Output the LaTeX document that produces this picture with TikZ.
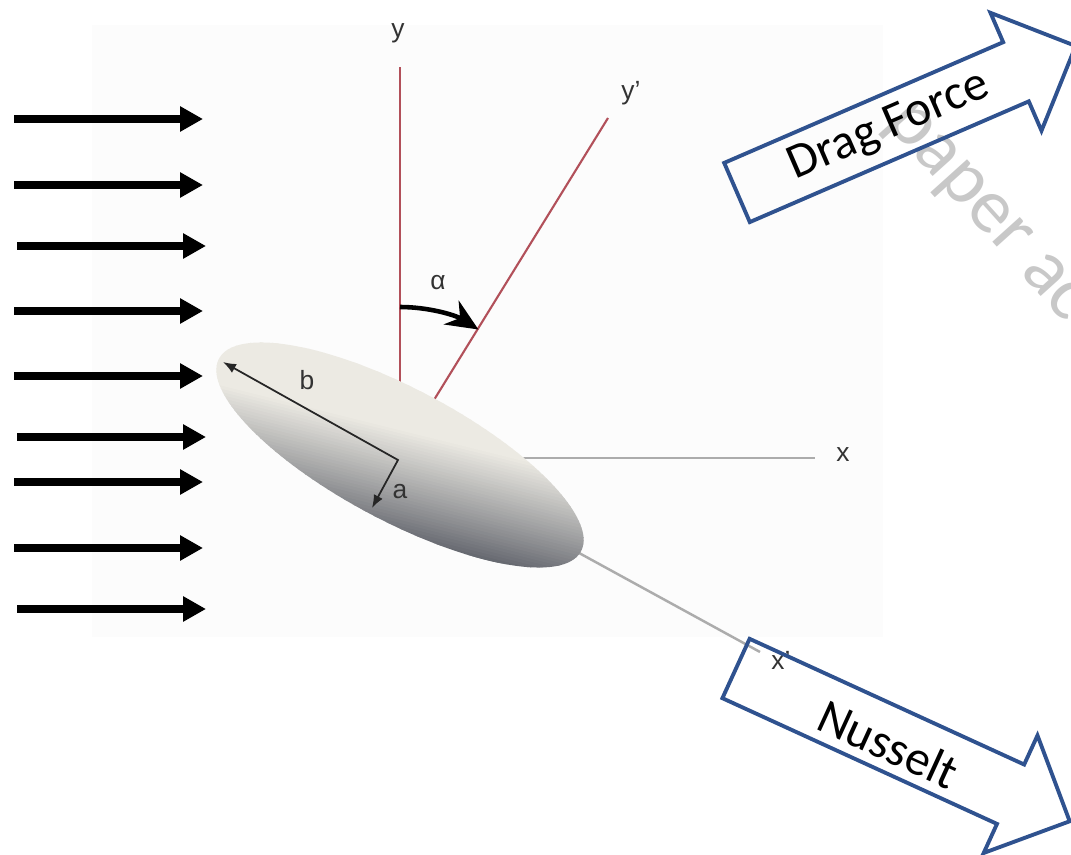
\documentclass[tikz,border=0pt]{standalone}
\usepackage{fontspec}
\setmainfont{Carlito}
\newfontfamily\axisfont{Liberation Sans}
\usetikzlibrary{arrows.meta,calc}
\tikzset{>=latex}
\definecolor{axisred}{RGB}{178,80,90}
\definecolor{axisgray}{RGB}{172,172,172}
\definecolor{boxblue}{RGB}{47,82,143}
\definecolor{markgray}{RGB}{200,200,200}
\definecolor{bodylight}{RGB}{236,234,227}
\definecolor{bodydark}{RGB}{88,91,100}
\tikzset{
  flow/.style={line width=2.1pt, -{Triangle[length=2.3mm,width=2.4mm]}},
  axislabel/.style={font=\axisfont\fontsize{7.5}{9}\selectfont, text=black!80},
  blockarrow/.style={draw=boxblue, line width=1.1pt, line join=miter},
  blocktext/.style={font=\fontsize{14}{16}\selectfont, transform shape}
}

\begin{document}
\begin{tikzpicture}
  \useasboundingbox (0,0) rectangle (10.71,-8.55);
  \clip (0,0) rectangle (10.71,-8.55);
  \fill [black!1] (0.92,-0.25) rectangle (8.83,-6.37);

  % incoming flow
  \foreach \yy/\xs in {1.19/0.14, 1.85/0.14, 2.46/0.17, 3.11/0.14, 3.76/0.14, 4.37/0.17, 4.82/0.14, 5.48/0.14, 6.09/0.17}
    \draw [flow] (\xs,-\yy) --++ (1.89,0);

  % axes
  \coordinate (O) at (4.00,-4.55);
  \coordinate (ytop) at (4.00,-0.67);
  \coordinate (yptop) at (6.08,-1.18);
  \coordinate (xend) at (8.15,-4.58);
  \coordinate (xpend) at (7.60,-6.52);
  \draw [axisgray, line width=0.7pt] (4.00,-4.58) -- (xend);
  \draw [axisgray, line width=0.7pt] (O) -- (xpend);
  \draw [axisred, line width=0.6pt] (O) -- (ytop);
  \draw [axisred, line width=0.6pt] (O) -- (yptop);
  \node [axislabel] (ylab) at (3.98,-0.33) {y};
  \node [axislabel] (yplab) at (6.31,-0.93) {y’};
  \node [axislabel] (xlab) at (8.43,-4.55) {x};
  \node [axislabel] (xplab) at (7.81,-6.60) {x’};

  % spheroid, shaded in bands (light from the upper left)
  \begin{scope}[shift={(O)}, rotate=-28]
    \clip (0,0) ellipse [x radius=2.05, y radius=0.66];
    \begin{scope}[rotate=14]
      \foreach \i in {0,...,59} {
        \pgfmathsetmacro\p{100*min(1,\i/38)^0.9}
        \pgfmathsetmacro\lo{-0.90+\i*0.03}
        \pgfmathsetmacro\hi{\lo+0.036}
        \fill [bodylight!\p!bodydark] (-2.3,\lo) -- (2.3,\lo) -- (2.3,\hi) -- (-2.3,\hi) -- cycle;
      }
    \end{scope}
  \end{scope}

  % angle of attack
  \draw [-{Stealth[length=3.2mm,width=2.8mm]}, line width=1.3pt] ($(O)+(90:1.48)$) arc [start angle=90, end angle=58, radius=1.48];
  \node [axislabel] (alab) at (4.38,-2.83) {α};

  % semi-axes
  \coordinate (btip) at (2.23,-3.62);
  \coordinate (bc) at (3.98,-4.60);
  \coordinate (atip) at (3.72,-5.08);
  \draw [{Latex[length=1.3mm,width=1mm]}-{Latex[length=1.3mm,width=1mm]}, line width=0.5pt, black!85] (btip) -- (bc) -- (atip);
  \node [axislabel] (blab) at (3.07,-3.80) {b};
  \node [axislabel] (alab2) at (4.00,-4.92) {a};

  % watermark
  \node [markgray, rotate=-48, anchor=base west, font=\fontsize{22}{26}\selectfont, inner sep=0pt] (mark) at (8.84,-1.22) {paper ac};

  % outputs
  \begin{scope}[shift={(7.37,-1.925)}, rotate=23.4]
    \draw [blockarrow] (0,-0.3225) -- (3.04,-0.3225) -- (3.04,-0.6425) -- (3.69,0) -- (3.04,0.6425) -- (3.04,0.3225) -- (0,0.3225) -- cycle;
    \node [blocktext] (drag) at (1.66,0) {Drag Force};
  \end{scope}
  \begin{scope}[shift={(7.36,-6.685)}, rotate=-24.6]
    \draw [blockarrow] (0,-0.3265) -- (3.02,-0.3265) -- (3.02,-0.6465) -- (3.67,0) -- (3.02,0.6465) -- (3.02,0.3265) -- (0,0.3265) -- cycle;
    \node [blocktext] (nu) at (1.70,-0.05) {Nusselt};
  \end{scope}
\end{tikzpicture}
\end{document}
